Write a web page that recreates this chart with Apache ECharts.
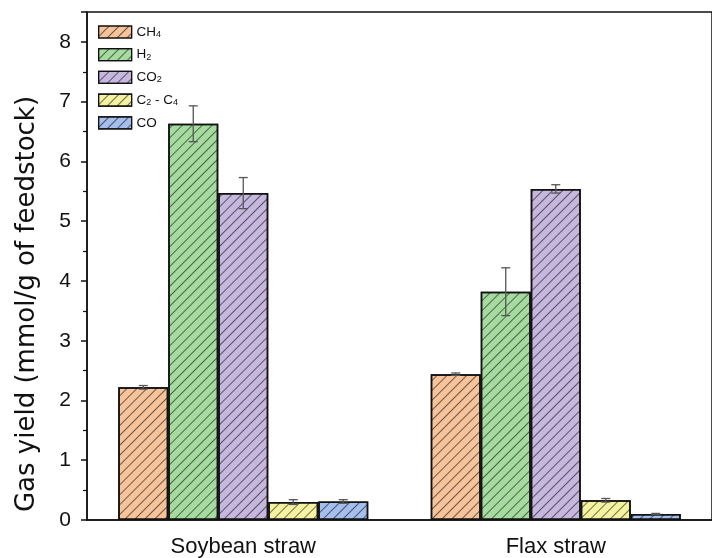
<!DOCTYPE html>
<html>
<head>
<meta charset="utf-8">
<script src="https://cdn.jsdelivr.net/npm/echarts@6/dist/echarts.min.js"></script>
<style>html,body{margin:0;padding:0;background:#fff;}#c{width:712px;height:558px;}</style>
</head>
<body>
<div id="c"></div>
<script>
var categories = ['Soybean straw', 'Flax straw'];
var seriesNames = ['CH4', 'H2', 'CO2', 'C2 - C4', 'CO'];
var ch4 = [2.22, 2.44];
var h2 = [6.63, 3.82];
var co2 = [5.47, 5.54];
var c2c4 = [0.30, 0.33];
var co = [0.31, 0.10];
var ch4Err = [0.03, 0.02];
var h2Err = [0.30, 0.40];
var co2Err = [0.26, 0.07];
var c2c4Err = [0.04, 0.03];
var coErr = [0.03, 0.01];
var yTicks = [0, 1, 2, 3, 4, 5, 6, 7, 8];

var values = [ch4, h2, co2, c2c4, co];
var errors = [ch4Err, h2Err, co2Err, c2c4Err, coErr];
var colors = ['#F6C39B', '#A6DBA0', '#C6B7DE', '#F5F2A0', '#A4BEEE'];
var legendRich = {
  'CH4': '{n|CH}{s|4}',
  'H2': '{n|H}{s|2}',
  'CO2': '{n|CO}{s|2}',
  'C2 - C4': '{n|C}{s|2}{n| - C}{s|4}',
  'CO': '{n|CO}'
};

var chart = echarts.init(document.getElementById('c'), null, {renderer: 'canvas'});
var decal = {
  symbol: 'rect',
  symbolSize: 1,
  color: 'rgba(0,0,0,0.55)',
  dashArrayX: [1, 0],
  dashArrayY: [1, 6],
  rotation: -Math.PI / 4
};

var nS = seriesNames.length;
var barSeries = seriesNames.map(function (name, i) {
  return {
    name: name,
    type: 'bar',
    data: values[i],
    barGap: '0%',
    barCategoryGap: '20%',
    itemStyle: {color: colors[i], borderColor: '#111', borderWidth: 1.5, decal: decal},
    emphasis: {disabled: true},
    z: 2
  };
});

var errSeries = seriesNames.map(function (name, i) {
  return {
    type: 'custom',
    name: name + ' err',
    z: 5,
    data: values[i].map(function (v, k) { return [k, v - errors[i][k], v + errors[i][k]]; }),
    renderItem: function (params, api) {
      var band = api.size([1, 0])[0];
      var bw = band * 0.8 / nS;
      var off = (i - (nS - 1) / 2) * bw;
      var lo = api.coord([api.value(0), api.value(1)]);
      var hi = api.coord([api.value(0), api.value(2)]);
      var x = lo[0] + off;
      var cap = 4.5;
      var st = {stroke: '#555', lineWidth: 1.3};
      return {
        type: 'group',
        children: [
          {type: 'line', shape: {x1: x, y1: lo[1], x2: x, y2: hi[1]}, style: st},
          {type: 'line', shape: {x1: x - cap, y1: lo[1], x2: x + cap, y2: lo[1]}, style: st},
          {type: 'line', shape: {x1: x - cap, y1: hi[1], x2: x + cap, y2: hi[1]}, style: st}
        ]
      };
    }
  };
});

chart.setOption({
  animation: false,
  backgroundColor: '#fff',
  aria: {decal: {show: true}},
  grid: {left: 87, top: 12, width: 634, height: 510, show: true, borderColor: '#111', borderWidth: 1.5, containLabel: false},
  legend: {
    data: seriesNames,
    orient: 'vertical',
    left: 98,
    top: 25,
    padding: 0,
    itemWidth: 33,
    itemHeight: 12,
    itemGap: 8.7,
    icon: 'rect',
    itemStyle: {borderColor: '#111', borderWidth: 1.2},
    formatter: function (n) { return legendRich[n]; },
    textStyle: {
      fontFamily: 'Liberation Sans',
      color: '#111',
      rich: {
        n: {fontSize: 13.5, lineHeight: 14, fontFamily: 'Liberation Sans', color: '#111', verticalAlign: 'bottom'},
        s: {fontSize: 9, lineHeight: 5, fontFamily: 'Liberation Sans', color: '#111', verticalAlign: 'bottom'}
      }
    }
  },
  xAxis: {
    type: 'category',
    data: categories,
    axisLine: {lineStyle: {color: '#111', width: 1.5}},
    axisTick: {show: false},
    axisLabel: {fontFamily: 'Liberation Sans', fontSize: 22, color: '#111', margin: 16}
  },
  yAxis: {
    type: 'value',
    min: 0,
    max: 8.5,
    interval: 1,
    name: 'Gas yield (mmol/g of feedstock)',
    nameLocation: 'middle',
    nameGap: 47,
    nameTextStyle: {fontFamily: 'DejaVu Sans', fontSize: 26, color: '#111', padding: [0, 76, 0, 0]},
    axisLine: {show: true, lineStyle: {color: '#111', width: 1.5}},
    axisTick: {show: true, inside: false, length: 6, lineStyle: {color: '#111', width: 1.5}},
    minorTick: {show: true, splitNumber: 2, length: 4, lineStyle: {color: '#111', width: 1.2}},
    splitLine: {show: false},
    axisLabel: {
      fontFamily: 'Liberation Sans', fontSize: 21, color: '#111', margin: 16,
      formatter: function (v) { return yTicks.indexOf(v) >= 0 ? String(v) : ''; }
    }
  },
  series: barSeries.concat(errSeries)
});
</script>
</body>
</html>
